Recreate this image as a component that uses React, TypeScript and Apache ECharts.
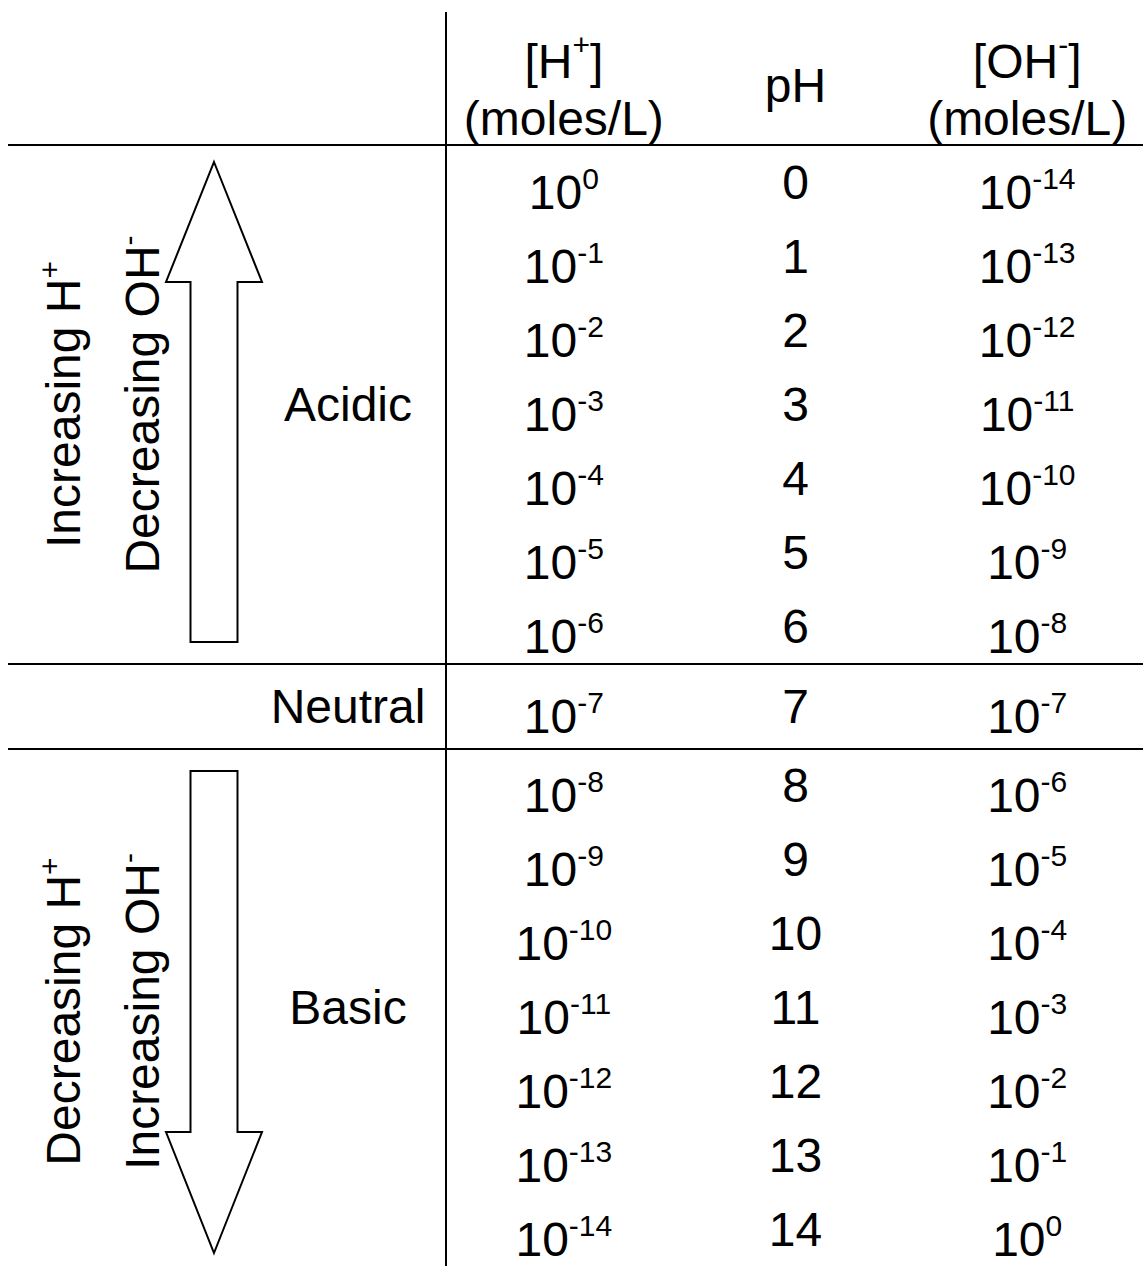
import React, { useEffect, useRef } from "react";
import * as echarts from "echarts";

// ---------- data ----------
const columnKeys = ["H", "pH", "OH"];
const pHValues = [0, 1, 2, 3, 4, 5, 6, 7, 8, 9, 10, 11, 12, 13, 14];
const hExponents = ["0", "-1", "-2", "-3", "-4", "-5", "-6", "-7", "-8", "-9", "-10", "-11", "-12", "-13", "-14"];
const ohExponents = ["-14", "-13", "-12", "-11", "-10", "-9", "-8", "-7", "-6", "-5", "-4", "-3", "-2", "-1", "0"];
const sectionNames = ["Acidic", "Neutral", "Basic"];
const sectionRows = [
  [0, 1, 2, 3, 4, 5, 6],
  [7],
  [8, 9, 10, 11, 12, 13, 14],
];
// side captions: [main text, superscript]
const acidCaptions = [["Increasing H", "+"], ["Decreasing OH", "-"]];
const baseCaptions = [["Decreasing H", "+"], ["Increasing OH", "-"]];

// ---------- layout ----------
const PAGE_W = 1143;
const PAGE_H = 1266;
const TABLE_LEFT = 8;
const DIVIDER_X = 446;
const DIVIDER_TOP = 12;
const SECTION_BOUNDS = [145, 664, 749, 1266];
const CAPTION_SHIFT = [0, 0, 4];
const DATA_LEFT = 448;
const DATA_WIDTH = 708;
const LABEL_X = 348;
const CAPTION_X = [63.5, 142.5];
const ARROW_X = 214;
const HEAD_HALF = 48;
const SHAFT_HALF = 23.5;
const FONT = "'Liberation Sans', Arial, Helvetica, sans-serif";
const BIG = 48;
const SUP = 30;

const supRich = {
  b: { fontSize: BIG, lineHeight: 48, fontFamily: FONT, color: "#000" },
  s: { fontSize: SUP, lineHeight: 20, height: 20, fontFamily: FONT, color: "#000", verticalAlign: "top" },
};

function App() {
  const ref = useRef<HTMLDivElement>(null);
  useEffect(() => {
    document.body.style.margin = "0";
    document.body.style.overflow = "hidden";
    if (!ref.current) return;
    const chart = echarts.init(ref.current, null, { renderer: "svg" });

    const grids = sectionRows.map((_, k) => ({
      left: DATA_LEFT,
      width: DATA_WIDTH,
      top: SECTION_BOUNDS[k],
      height: SECTION_BOUNDS[k + 1] - SECTION_BOUNDS[k],
    }));

    const headerRich = {
      b: { fontSize: BIG, lineHeight: 57, fontFamily: FONT, color: "#000" },
      s: { fontSize: SUP, lineHeight: 22, height: 22, fontFamily: FONT, color: "#000", verticalAlign: "top" },
      p: { fontSize: BIG, lineHeight: 57, fontFamily: FONT, color: "#000", padding: [0, 0, 10, 0] },
    };

    const xAxes = sectionRows.map((_, k) => ({
      type: "category",
      gridIndex: k,
      data: columnKeys,
      position: "top",
      axisLine: { show: false },
      axisTick: { show: false },
      splitLine: { show: false },
      axisLabel:
        k === 0
          ? {
              show: true,
              interval: 0,
              margin: 55,
              verticalAlign: "middle",
              align: "center",
              formatter: (v: string) =>
                v === "H"
                  ? "{b|[H}{s|+}{b|]}\n{b|(moles/L)}"
                  : v === "OH"
                  ? "{b|[OH}{s|-}{b|]}\n{b|(moles/L)}"
                  : "{p|pH}",
              rich: headerRich,
            }
          : { show: false },
    }));

    const yAxes = sectionRows.map((rows, k) => ({
      type: "category",
      gridIndex: k,
      data: rows.map(String),
      inverse: true,
      show: false,
    }));

    const series: any[] = [];
    sectionRows.forEach((rows, k) => {
      columnKeys.forEach((col) => {
        series.push({
          type: "scatter",
          xAxisIndex: k,
          yAxisIndex: k,
          symbolSize: 1,
          silent: true,
          itemStyle: { color: "transparent", opacity: 1 },
          emphasis: { disabled: true },
          data: rows.map((r) => [col, String(r)]),
          label: {
            show: true,
            position: "inside",
            opacity: 1,
            offset: col === "pH" ? [0, 0] : [0, 10],
            fontFamily: FONT,
            fontSize: BIG,
            color: "#000",
            textBorderWidth: 0,
            formatter: (p: any) => {
              const r = Number(p.data[1]);
              if (col === "pH") return String(pHValues[r]);
              const e = col === "H" ? hExponents[r] : ohExponents[r];
              return `{b|10}{s|${e}}`;
            },
            rich: supRich,
          },
        });
      });
    });

    const lineStyle = { stroke: "#000", lineWidth: 2 };
    const graphics: any[] = [];
    // table rules
    SECTION_BOUNDS.slice(0, 3).forEach((y) => {
      graphics.push({ type: "line", shape: { x1: TABLE_LEFT, y1: y, x2: PAGE_W, y2: y }, style: lineStyle, silent: true });
    });
    graphics.push({ type: "line", shape: { x1: DIVIDER_X, y1: DIVIDER_TOP, x2: DIVIDER_X, y2: PAGE_H }, style: lineStyle, silent: true });

    // section names
    sectionNames.forEach((name, k) => {
      graphics.push({
        type: "text",
        x: LABEL_X,
        y: (SECTION_BOUNDS[k] + SECTION_BOUNDS[k + 1]) / 2,
        style: { text: name, fontSize: BIG, fontFamily: FONT, fill: "#000", align: "center", verticalAlign: "middle" },
      });
    });

    // arrows
    const upTip = SECTION_BOUNDS[0] + 17;
    const upHead = SECTION_BOUNDS[0] + 137;
    const upTail = SECTION_BOUNDS[1] - 22;
    const downTail = SECTION_BOUNDS[2] + 22;
    const downHead = SECTION_BOUNDS[3] - 134;
    const downTip = SECTION_BOUNDS[3] - 13;
    const arrow = (tip: number, head: number, tail: number) => [
      [ARROW_X, tip],
      [ARROW_X + HEAD_HALF, head],
      [ARROW_X + SHAFT_HALF, head],
      [ARROW_X + SHAFT_HALF, tail],
      [ARROW_X - SHAFT_HALF, tail],
      [ARROW_X - SHAFT_HALF, head],
      [ARROW_X - HEAD_HALF, head],
    ];
    graphics.push({ type: "polygon", shape: { points: arrow(upTip, upHead, upTail) }, style: { fill: "#fff", stroke: "#000", lineWidth: 2 } });
    graphics.push({ type: "polygon", shape: { points: arrow(downTip, downHead, downTail) }, style: { fill: "#fff", stroke: "#000", lineWidth: 2 } });

    // rotated captions
    const capRich = {
      b: { fontSize: BIG, lineHeight: 48, fontFamily: FONT, fill: "#000", color: "#000" },
      s: { fontSize: SUP, lineHeight: 20, height: 20, fontFamily: FONT, fill: "#000", color: "#000", verticalAlign: "top" },
    };
    const addCaptions = (caps: string[][], k: number) => {
      caps.forEach(([main, sup], i) => {
        graphics.push({
          type: "text",
          x: CAPTION_X[i],
          y: (SECTION_BOUNDS[k] + SECTION_BOUNDS[k + 1]) / 2 + CAPTION_SHIFT[k],
          rotation: Math.PI / 2,
          style: {
            text: `{b|${main}}{s|${sup}}`,
            rich: capRich,
            fontSize: BIG,
            fontFamily: FONT,
            fill: "#000",
            align: "center",
            verticalAlign: "middle",
          },
        });
      });
    };
    addCaptions(acidCaptions, 0);
    addCaptions(baseCaptions, 2);

    chart.setOption({
      animation: false,
      backgroundColor: "#fff",
      grid: grids,
      xAxis: xAxes,
      yAxis: yAxes,
      series,
      graphic: graphics,
    });
    return () => chart.dispose();
  }, []);
  return <div ref={ref} style={{ width: PAGE_W, height: PAGE_H }} />;
}

export default App;
